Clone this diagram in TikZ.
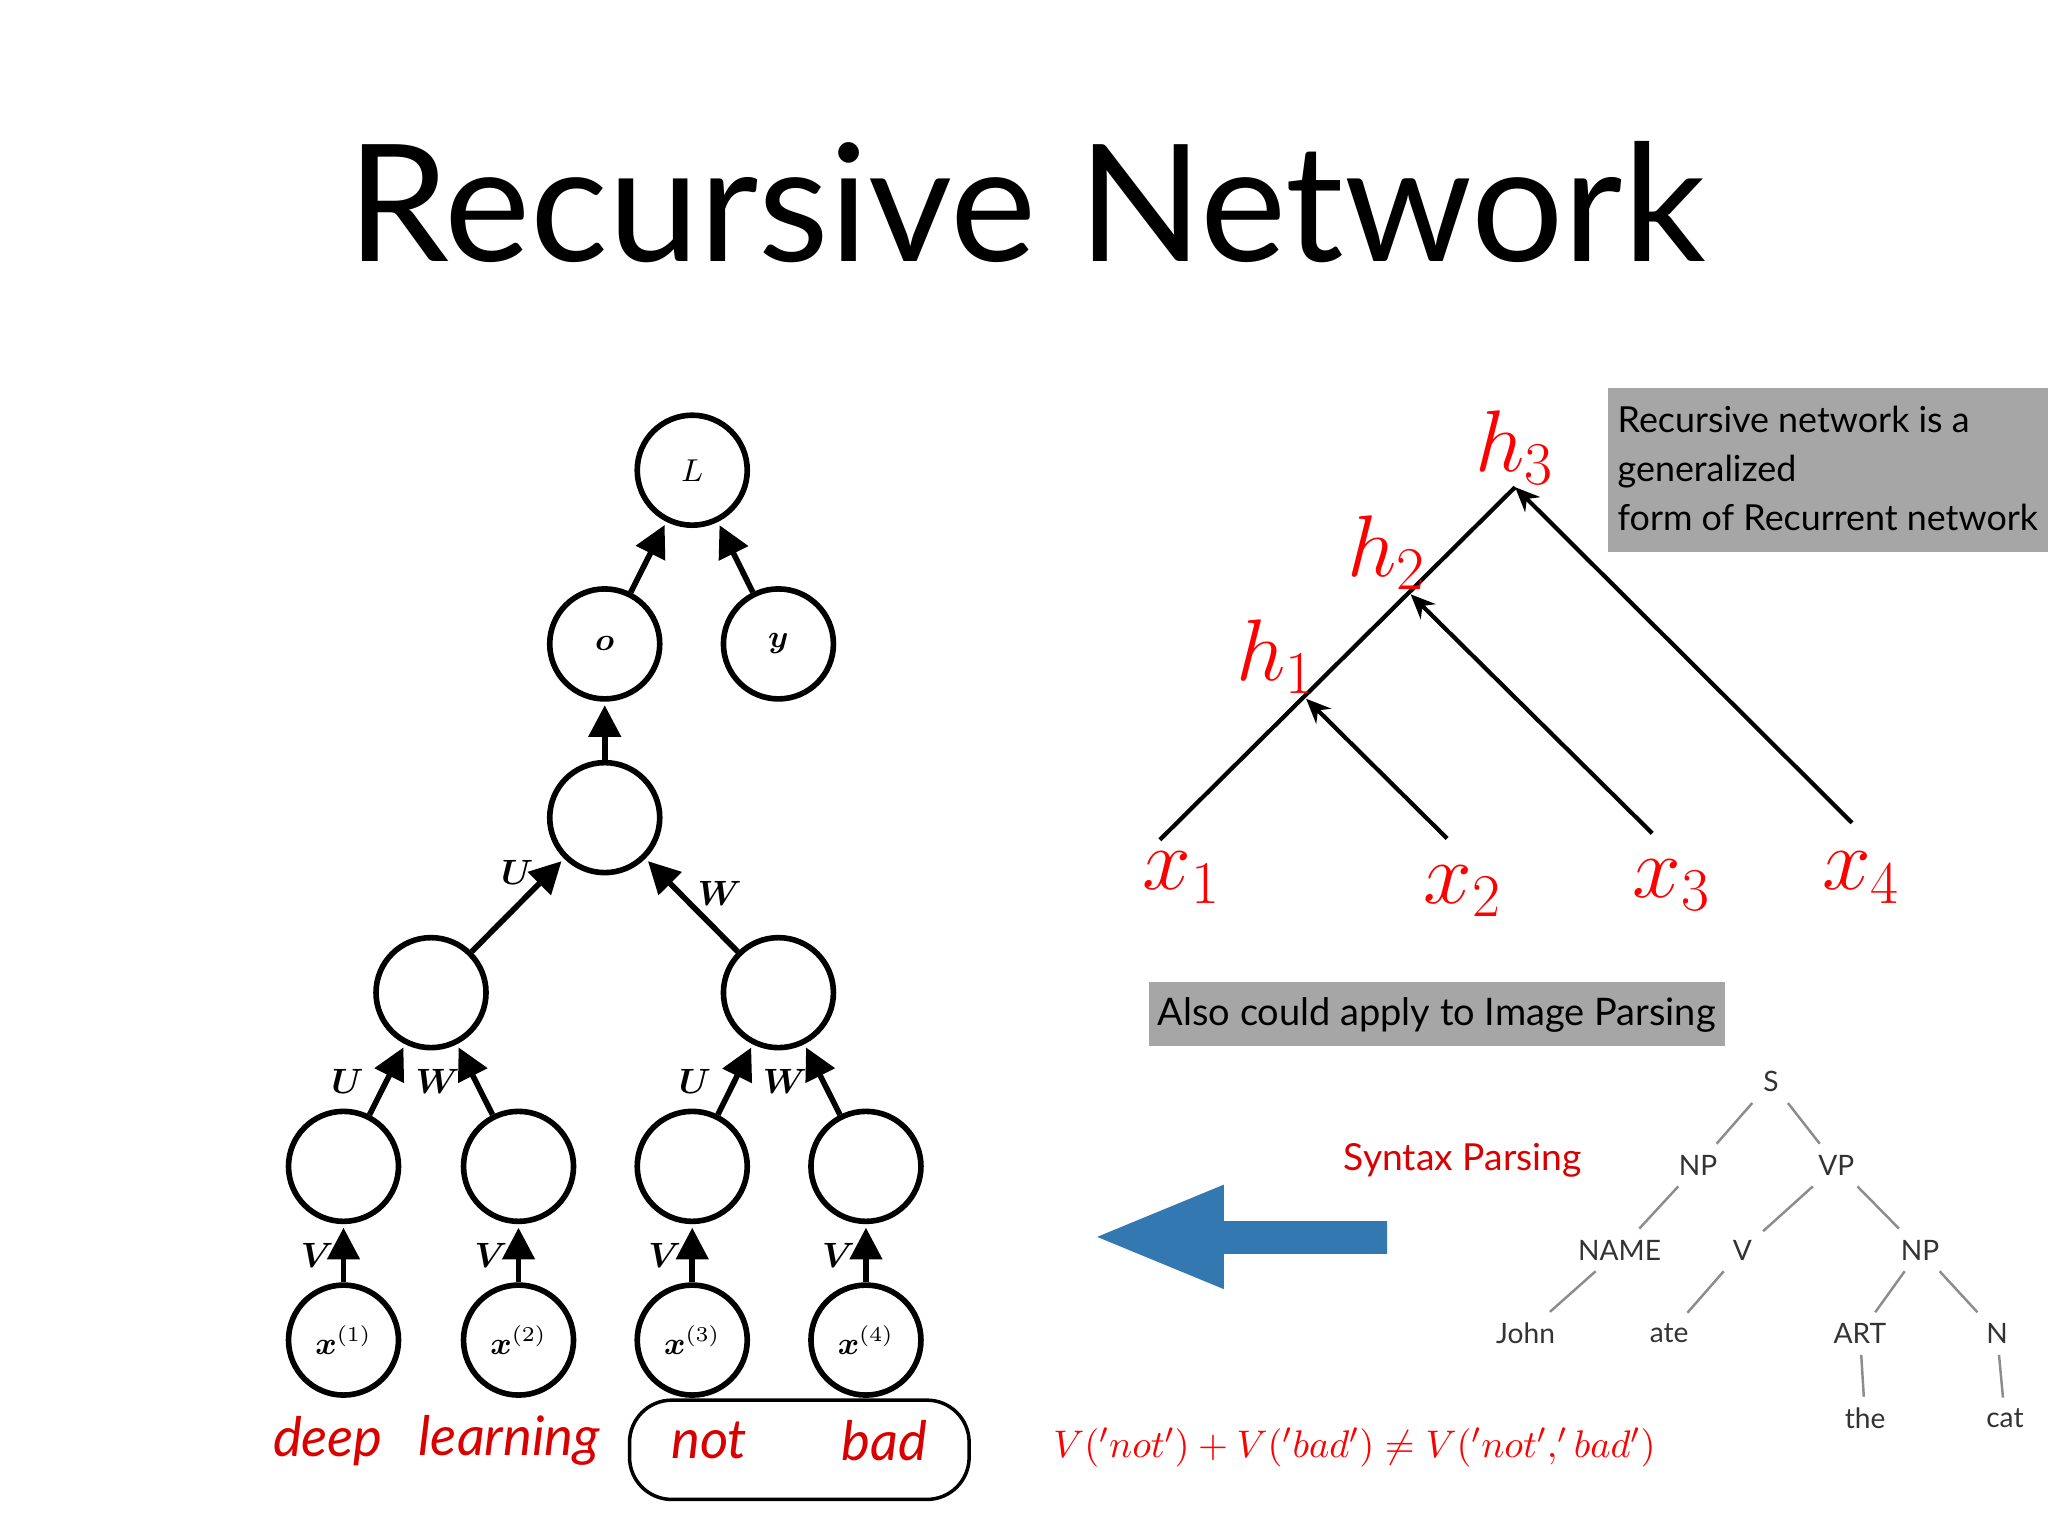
\documentclass[tikz,border=0pt]{standalone}
\usepackage{fontspec}
\setmainfont{Lato}
\usepackage{amsmath}
\usetikzlibrary{arrows.meta}
\definecolor{arrowblue}{RGB}{52,120,178}
\begin{document}
\begin{tikzpicture}[x=0.013061cm,y=-0.013061cm,
  nd/.style={circle,draw,line width=1.6pt,minimum size=1.1cm,inner sep=0pt,font=\small},
  ar/.style={line width=1.6pt,-{Triangle[length=9pt,width=9pt]},shorten >=1pt},
  lb/.style={font=\normalsize\boldmath},
  wd/.style={text=red!85!black,font=\fontsize{15.5}{18}\selectfont\itshape},
  ra/.style={line width=1.2pt,-{Stealth[length=7pt,width=6pt]}},
  pt/.style={font=\footnotesize,text=black!80,inner sep=3pt},
  pl/.style={draw=black!45,line width=0.7pt}]
\useasboundingbox (0,0) rectangle (1568,1176);
\node at (786,155) {\fontsize{46.4}{52}\selectfont Recursive Network};
% left tree
\node[nd] (L) at (530,360) {$L$};
\node[nd] (o) at (463,493) {$\boldsymbol{o}$};
\node[nd] (y) at (596,493) {$\boldsymbol{y}$};
\node[nd] (c) at (463,626) {};
\node[nd] (a) at (330,760) {};
\node[nd] (b) at (596,760) {};
\node[nd] (l1) at (263,893) {};
\node[nd] (l2) at (397,893) {};
\node[nd] (l3) at (530,893) {};
\node[nd] (l4) at (663,893) {};
\node[nd] (x1) at (263,1026) {$\boldsymbol{x}^{(1)}$};
\node[nd] (x2) at (397,1026) {$\boldsymbol{x}^{(2)}$};
\node[nd] (x3) at (530,1026) {$\boldsymbol{x}^{(3)}$};
\node[nd] (x4) at (663,1026) {$\boldsymbol{x}^{(4)}$};
\draw[ar] (o) -- (L); \draw[ar] (y) -- (L);
\draw[ar] (c) -- (o);
\draw[ar] (a) -- (c); \draw[ar] (b) -- (c);
\draw[ar] (l1) -- (a); \draw[ar] (l2) -- (a);
\draw[ar] (l3) -- (b); \draw[ar] (l4) -- (b);
\foreach \i in {1,2,3,4} \draw[ar] (x\i) -- (l\i);
\node[lb] at (396,668) {$U$}; \node[lb] at (551,684) {$W$};
\node[lb] at (266,828) {$U$}; \node[lb] at (335,828) {$W$};
\node[lb] at (532,828) {$U$}; \node[lb] at (601,828) {$W$};
\foreach \xx in {243,376,509,642} \node[lb] at (\xx,961) {$V$};
\node[wd] at (251,1103) {deep};
\node[wd] at (390,1103) {learning};
\node[wd] at (543,1103) {not};
\node[wd] at (677,1103) {bad};
\draw[line width=1pt,rounded corners=12pt] (482,1072) rectangle (742,1148);
% right tree
\coordinate (h3) at (1160,373); \coordinate (h2) at (1080,455); \coordinate (h1) at (1000,535);
\coordinate (e1) at (888,643); \coordinate (e2) at (1108,642); \coordinate (e3) at (1265,638); \coordinate (e4) at (1418,630);
\draw[line width=1.2pt] (e1) -- (h3);
\draw[ra] (e2) -- (h1); \draw[ra] (e3) -- (h2); \draw[ra] (e4) -- (h3);
\begin{scope}[text=red,font=\fontsize{26}{26}\selectfont]
\node at (1160,343) {$h_3$}; \node at (1062,423) {$h_2$}; \node at (977,503) {$h_1$};
\node at (905,672) {$x_1$}; \node at (1120,682) {$x_2$}; \node at (1280,678) {$x_3$}; \node at (1425,672) {$x_4$};
\end{scope}
\fill[black!35] (1231,297) rectangle (1568,423);
\node[anchor=north west,align=left,font=\fontsize{10.2}{14}\selectfont,inner sep=0pt] at (1238,310) {Recursive network is a\\generalized\\form of Recurrent network};
\fill[black!35] (880,752) rectangle (1321,801);
\node[font=\fontsize{10.8}{13}\selectfont] at (1100,777) {Also could apply to Image Parsing};
% blue arrow
\fill[arrowblue] (840,947) -- (937,907) -- (937,935) -- (1062,935) -- (1062,960) -- (937,960) -- (937,987) -- cycle;
\node[text=red!85!black,font=\fontsize{10.6}{13}\selectfont] at (1120,888) {Syntax Parsing};
% parse tree
\node[pt] (S) at (1356,828) {S};
\node[pt] (NP) at (1300,892) {NP};
\node[pt] (VP) at (1406,892) {VP};
\node[pt] (NAME) at (1240,957) {NAME};
\node[pt] (V) at (1334,957) {V};
\node[pt] (NP2) at (1470,957) {NP};
\node[pt] (John) at (1168,1021) {John};
\node[pt] (ate) at (1278,1021) {ate};
\node[pt] (ART) at (1424,1021) {ART};
\node[pt] (N) at (1529,1021) {N};
\node[pt] (the) at (1428,1086) {the};
\node[pt] (cat) at (1535,1086) {cat};
\draw[pl] (S) -- (NP); \draw[pl] (S) -- (VP);
\draw[pl] (NP) -- (NAME); \draw[pl] (VP) -- (V); \draw[pl] (VP) -- (NP2);
\draw[pl] (NAME) -- (John); \draw[pl] (V) -- (ate);
\draw[pl] (NP2) -- (ART); \draw[pl] (NP2) -- (N);
\draw[pl] (ART) -- (the); \draw[pl] (N) -- (cat);
\node[text=red,font=\fontsize{11}{13}\selectfont] at (1037,1108) {$V('not')+V('bad')\neq V('not','bad')$};
\end{tikzpicture}
\end{document}
